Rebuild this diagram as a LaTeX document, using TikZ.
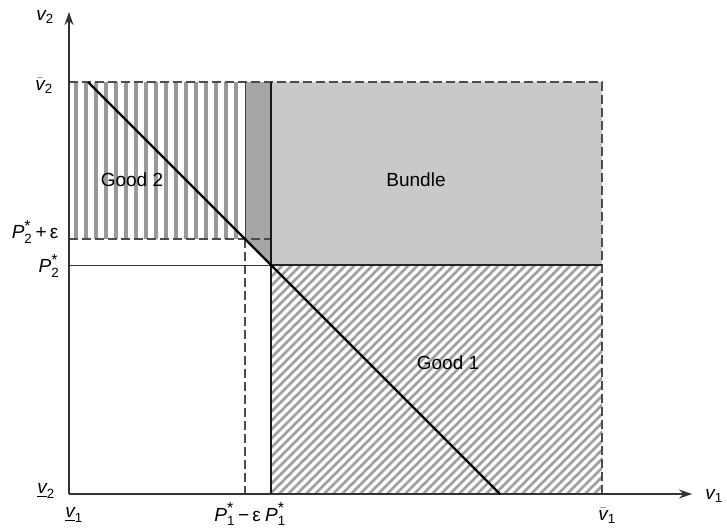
\documentclass[tikz,border=0pt]{standalone}
\usepackage{fontspec}
\usepackage{amsmath}
\setmainfont{Liberation Sans}
\usetikzlibrary{arrows.meta}
\newcommand{\bigast}{\text{\fontsize{16}{16}\selectfont *}}
\tikzset{
  lab/.style={font=\fontsize{19}{22}\selectfont, inner sep=1pt},
  regionlab/.style={font=\fontsize{19}{22}\selectfont, inner sep=1pt},
  axisline/.style={line width=1.1pt, black!80, -{Stealth[length=13pt,width=9pt]}},
  dashline/.style={line width=1.1pt, black!70, dash pattern=on 9pt off 4pt},
  vhatch/.style={line width=4pt, gray!80},
  dhatch/.style={line width=2.8pt, gray!75},
  bundlefill/.style={fill=gray!42},
  stripfill/.style={fill=gray!70},
  budget/.style={line width=2.4pt, black},
}
\begin{document}
\begin{tikzpicture}[x=1pt,y=-1pt]
\useasboundingbox (0,0) rectangle (727,530);
% key coordinates
\coordinate (O) at (69,494);
\coordinate (xend) at (692,494);
\coordinate (yend) at (69,12);
\coordinate (TL) at (69,82);
\coordinate (TR) at (602,82);
\coordinate (BR) at (602,494);
\coordinate (Pe1top) at (245,82);
\coordinate (Pe1c) at (245,239);
\coordinate (Pe1b) at (245,494);
\coordinate (P1top) at (271,82);
\coordinate (P1c) at (271,265);
\coordinate (P1e) at (271,239);
\coordinate (P1b) at (271,494);
\coordinate (P2l) at (69,265);
\coordinate (P2r) at (602,265);
\coordinate (Pe2l) at (69,239);
\coordinate (Dstart) at (88,82);
\coordinate (Dend) at (500,494);

% bundle region
\fill[bundlefill] (P1top) rectangle (P2r);
% dark strip
\fill[stripfill] (Pe1top) -- (P1top) -- (P1c) -- (Pe1c) -- cycle;

% good 2 hatching (vertical)
\begin{scope}
  \clip (TL) rectangle (Pe1c);
  \foreach \x in {76,86,...,240} \draw[vhatch] (\x,82) -- (\x,239);
\end{scope}
% good 1 hatching (diagonal)
\begin{scope}
  \clip (P1c) rectangle (BR);
  \foreach \s in {36,45,...,610} \draw[dhatch] (\s,494) -- ++(240,-240);
\end{scope}

% dashed boundaries
\draw[dashline] (TL) -- (TR) -- (BR);
\draw[dashline] (Pe2l) -- (P1e);
\draw[dashline] (Pe1c) -- (Pe1b);
\draw[line width=1pt, black!75] (Pe1top) -- (Pe1c);

% solid lines
\draw[line width=0.8pt, black!80] (P2l) -- (P1c);
\draw[line width=1.4pt, black!85] (P1c) -- (P2r);
\draw[line width=1.8pt, black!90] (P1top) -- (P1b);

% axes
\draw[axisline] (O) -- (xend);
\draw[axisline] (O) -- (yend);

% budget line
\draw[budget] (Dstart) -- (Dend);

% region labels
\node[regionlab] (good2) at (132,180) {Good 2};
\node[regionlab] (bundle) at (416,180) {Bundle};
\node[regionlab] (good1) at (448,363) {Good 1};

% axis labels
\node[lab] (v2ax) at (45,17) {$\textit{v}_{\text{2}}$};
\node[lab] (v1ax) at (714,496) {$\textit{v}_{\text{1}}$};
\node[lab] (v2bar) at (44,86) {$\bar{\textit{v}}_{\text{2}}$};
\node[lab] (p2e) at (35,232) {$\textit{P}^{\bigast}_{\text{2}}$\,+\,ε};
\node[lab] (p2) at (49,266) {$\textit{P}^{\bigast}_{\text{2}}$};
\node[lab] (v2low) at (46,491) {$\underline{\textit{v}}_{\text{2}}$};
\node[lab] (v1low) at (74,515) {$\underline{\textit{v}}_{\text{1}}$};
\node[lab, anchor=east] (p1e) at (262,514) {$\textit{P}^{\bigast}_{\text{1}}$\,−\,ε};
\node[lab, anchor=west] (p1) at (264,514) {$\textit{P}^{\bigast}_{\text{1}}$};
\node[lab] (v1bar) at (607,516) {$\bar{\textit{v}}_{\text{1}}$};
\end{tikzpicture}
\end{document}
